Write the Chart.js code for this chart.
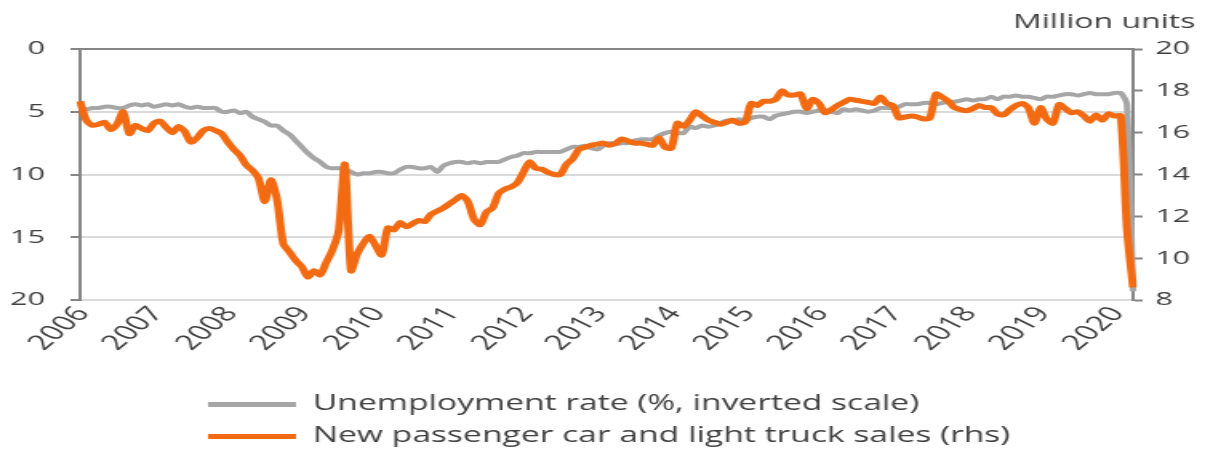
<!DOCTYPE html>
<html>
<head>
<meta charset="utf-8">
<script src="https://cdn.jsdelivr.net/npm/chart.js@4/dist/chart.umd.min.js"></script>
<style>
  html, body { margin: 0; padding: 0; background: #fff; overflow: hidden; }
  /* the chart is laid out narrow and widened, which gives the broad lettering */
  #chart { transform: scaleX(1.6003); transform-origin: 0 0; }
</style>
</head>
<body>
<canvas id="chart" width="753" height="452"></canvas>
<script>
const years = [2006, 2007, 2008, 2009, 2010, 2011, 2012, 2013, 2014, 2015, 2016, 2017, 2018, 2019, 2020];
const monthsInLastYear = 4;

// US unemployment rate, %, monthly (plotted on an inverted axis)
const unemployment = [
  4.7, 4.8, 4.7, 4.7, 4.6, 4.6, 4.7, 4.7, 4.5, 4.4, 4.5, 4.4,
  4.6, 4.5, 4.4, 4.5, 4.4, 4.6, 4.7, 4.6, 4.7, 4.7, 4.7, 5.0,
  5.0, 4.9, 5.1, 5.0, 5.4, 5.6, 5.8, 6.1, 6.1, 6.5, 6.8, 7.3,
  7.8, 8.3, 8.7, 9.0, 9.4, 9.5, 9.5, 9.6, 9.8, 10.0, 9.9, 9.9,
  9.8, 9.8, 9.9, 9.9, 9.6, 9.4, 9.4, 9.5, 9.5, 9.4, 9.8, 9.3,
  9.1, 9.0, 9.0, 9.1, 9.0, 9.1, 9.0, 9.0, 9.0, 8.8, 8.6, 8.5,
  8.3, 8.3, 8.2, 8.2, 8.2, 8.2, 8.2, 8.0, 7.8, 7.8, 7.7, 7.9,
  8.0, 7.7, 7.5, 7.6, 7.5, 7.5, 7.3, 7.2, 7.2, 7.2, 6.9, 6.7,
  6.6, 6.7, 6.7, 6.2, 6.3, 6.1, 6.2, 6.1, 5.9, 5.7, 5.8, 5.6,
  5.7, 5.5, 5.4, 5.4, 5.6, 5.3, 5.2, 5.1, 5.0, 5.0, 5.1, 5.0,
  4.9, 4.9, 5.0, 5.1, 4.8, 4.9, 4.8, 4.9, 5.0, 4.9, 4.7, 4.7,
  4.7, 4.6, 4.4, 4.4, 4.4, 4.3, 4.3, 4.4, 4.3, 4.2, 4.2, 4.1,
  4.0, 4.1, 4.0, 4.0, 3.8, 4.0, 3.8, 3.8, 3.7, 3.8, 3.8, 3.9,
  4.0, 3.8, 3.8, 3.7, 3.6, 3.6, 3.7, 3.6, 3.5, 3.6, 3.6, 3.6,
  3.5, 3.5, 4.4, 19.3
];

// new passenger car and light truck sales, million units (annualised)
const carSales = [
  17.5, 16.6, 16.35, 16.4, 16.5, 16.15, 16.4, 17.0, 15.95, 16.35, 16.2, 16.1,
  16.45, 16.55, 16.25, 16.0, 16.3, 16.05, 15.55, 15.75, 16.1, 16.2, 16.1, 15.95,
  15.55, 15.2, 14.9, 14.45, 14.2, 13.8, 12.7, 13.75, 12.8, 10.7, 10.3, 9.9,
  9.6, 9.1, 9.4, 9.2, 9.8, 10.4, 11.3, 14.5, 9.4, 10.2, 10.7, 11.05,
  10.6, 10.15, 11.45, 11.35, 11.7, 11.5, 11.65, 11.8, 11.75, 12.1, 12.25, 12.4,
  12.6, 12.8, 13.0, 12.7, 11.85, 11.6, 12.2, 12.4, 13.1, 13.3, 13.4, 13.6,
  14.1, 14.6, 14.3, 14.25, 14.1, 14.0, 14.0, 14.5, 14.75, 15.2, 15.3, 15.4,
  15.45, 15.5, 15.4, 15.5, 15.7, 15.6, 15.5, 15.5, 15.45, 15.4, 15.75, 15.3,
  15.25, 16.45, 16.3, 16.6, 17.0, 16.8, 16.6, 16.5, 16.4, 16.5, 16.6, 16.45,
  16.5, 17.4, 17.3, 17.5, 17.5, 17.6, 18.0, 17.8, 17.8, 17.85, 17.15, 17.6,
  17.4, 16.95, 17.1, 17.3, 17.45, 17.6, 17.55, 17.5, 17.45, 17.4, 17.7, 17.4,
  17.3, 16.7, 16.75, 16.8, 16.75, 16.65, 16.7, 17.85, 17.7, 17.5, 17.2, 17.1,
  17.05, 17.15, 17.3, 17.2, 17.2, 16.9, 16.85, 17.1, 17.3, 17.4, 17.2, 16.45,
  17.2, 16.65, 16.45, 17.35, 17.15, 16.95, 17.0, 16.8, 16.55, 16.85, 16.6, 16.9,
  16.8, 16.8, 11.4, 8.6
];

const leftTicks = [0, 5, 10, 15, 20];
const rightTicks = [8, 10, 12, 14, 16, 18, 20];

// one label per month, "2006-01" ... ; only January shows its year
const months = [];
years.forEach((y, i) => {
  const n = i === years.length - 1 ? monthsInLastYear : 12;
  for (let m = 1; m <= n; m++) {
    months.push(y + '-' + String(m).padStart(2, '0'));
  }
});

const textColor = '#404040';
const axisColor = '#858585';
const gridColor = '#dadada';
const fontFamily = '"Open Sans", "DejaVu Sans", sans-serif';

// put the two legend rows under each other, left aligned
const legendLeft = 119;
const legendTop = 383;
const legendPlacement = {
  id: 'legendPlacement',
  afterLayout(chart) {
    chart.legend.left = legendLeft;
    chart.legend.top = legendTop;
  }
};

let ctx = document.getElementById('chart').getContext('2d');
new Chart(ctx, {
  type: 'line',
  data: {
    labels: months,
    datasets: [
      {
        label: 'Unemployment rate (%, inverted scale)',
        data: unemployment,
        yAxisID: 'y',
        borderColor: '#a6a6a6',
        backgroundColor: '#a6a6a6',
        borderWidth: 4,
        pointRadius: 0,
        tension: 0.25,
        order: 2
      },
      {
        label: 'New passenger car and light truck sales (rhs)',
        data: carSales,
        yAxisID: 'y1',
        borderColor: '#f26b12',
        backgroundColor: '#f26b12',
        borderWidth: 5,
        pointRadius: 0,
        tension: 0.25,
        order: 1
      }
    ]
  },
  plugins: [legendPlacement],
  options: {
    responsive: false,
    animation: false,
    layout: { padding: { left: 0, right: 6, top: 0, bottom: 0 } },
    plugins: {
      tooltip: { enabled: false },
      title: {
        display: true,
        text: 'Million units',
        align: 'end',
        color: textColor,
        font: { family: fontFamily, size: 20, weight: 'normal' },
        padding: { top: 10, bottom: 15 }
      },
      legend: {
        position: 'bottom',
        align: 'start',
        labels: {
          color: textColor,
          font: { family: fontFamily, size: 21 },
          boxWidth: 55,
          boxHeight: 5,
          padding: 11,
          sort: (a, b) => a.datasetIndex - b.datasetIndex,
          generateLabels: (chart) => {
            const items = Chart.defaults.plugins.legend.labels.generateLabels(chart);
            items.forEach(item => { item.lineWidth = 0; });
            return items;
          }
        }
      }
    },
    scales: {
      x: {
        grid: { display: false, drawTicks: false },
        border: { display: false },
        ticks: {
          autoSkip: false,
          maxRotation: 52,
          minRotation: 52,
          padding: 2,
          labelOffset: 2,
          color: textColor,
          font: { family: fontFamily, size: 21 },
          callback: function (value) {
            const label = this.getLabelForValue(value);
            return label.endsWith('-01') ? label.slice(0, 4) : '';
          }
        },
        afterFit: (scale) => { scale.height = 78; }
      },
      y: {
        position: 'left',
        reverse: true,
        min: leftTicks[0],
        max: leftTicks[leftTicks.length - 1],
        afterBuildTicks: (scale) => { scale.ticks = leftTicks.map(v => ({ value: v })); },
        grid: {
          color: (c) => (c.tick && c.tick.value === 0 ? axisColor : gridColor),
          lineWidth: 2,
          tickLength: 6,
          tickColor: axisColor,
          tickWidth: 2
        },
        border: { display: true, color: axisColor, width: 2 },
        ticks: {
          padding: 16,
          color: textColor,
          font: { family: fontFamily, size: 19 }
        },
        afterFit: (scale) => { scale.width = 50; }
      },
      y1: {
        position: 'right',
        min: rightTicks[0],
        max: rightTicks[rightTicks.length - 1],
        afterBuildTicks: (scale) => { scale.ticks = rightTicks.map(v => ({ value: v })); },
        grid: {
          drawOnChartArea: false,
          tickLength: 6,
          tickColor: axisColor,
          tickWidth: 2
        },
        border: { display: true, color: axisColor, width: 2 },
        ticks: {
          padding: 8,
          color: textColor,
          font: { family: fontFamily, size: 19 }
        },
        afterFit: (scale) => { scale.width = 39; }
      }
    }
  }
});
</script>
</body>
</html>
